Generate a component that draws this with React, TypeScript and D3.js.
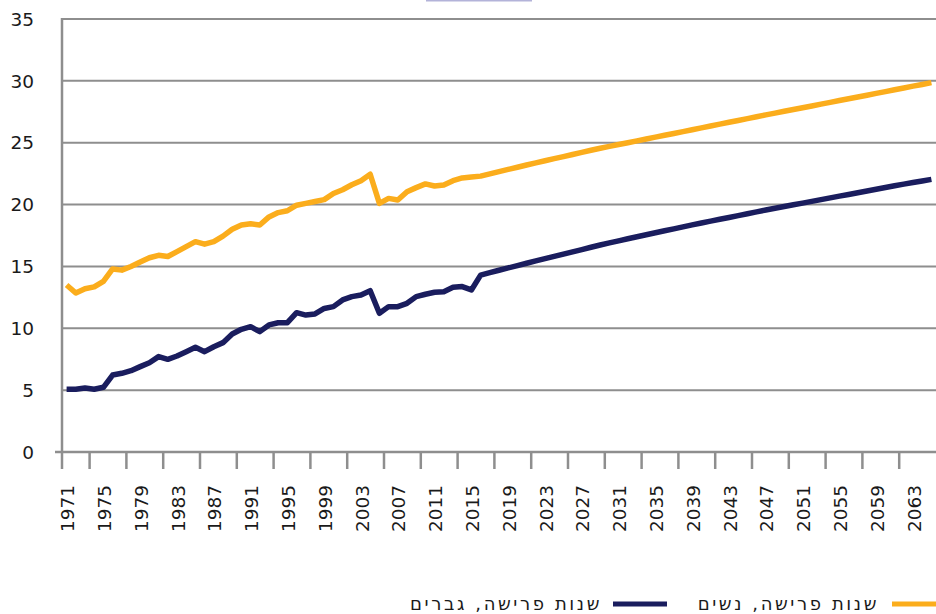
import React from "react";
import * as d3 from "d3";

const years: number[] = d3.range(1971, 2066);

const women: number[] = [
  13.5, 12.85, 13.2, 13.35, 13.8, 14.8, 14.7, 15.0, 15.35, 15.7,
  15.9, 15.8, 16.2, 16.6, 17.0, 16.8, 17.0, 17.45, 18.0, 18.35,
  18.45, 18.35, 19.0, 19.35, 19.5, 19.95, 20.1, 20.25, 20.4, 20.9,
  21.2, 21.6, 21.93, 22.45, 20.1, 20.5, 20.37, 21.04, 21.37, 21.67,
  21.5, 21.58, 21.93, 22.15, 22.22, 22.3,
  22.48, 22.66, 22.84, 23.02, 23.2, 23.37, 23.54, 23.71, 23.88, 24.05,
  24.22, 24.39, 24.55,
  24.7, 24.85, 25.0, 25.15, 25.3, 25.45, 25.6, 25.75, 25.9, 26.05,
  26.2, 26.35, 26.5, 26.65, 26.8, 26.95, 27.1, 27.25, 27.39, 27.54,
  27.68, 27.83, 27.97, 28.12, 28.26, 28.41, 28.55, 28.7, 28.84, 28.99,
  29.13, 29.28, 29.42, 29.57, 29.71, 29.86,
];

const men: number[] = [
  5.07, 5.07, 5.17, 5.07, 5.23, 6.22, 6.36, 6.57, 6.9, 7.22,
  7.71, 7.49, 7.76, 8.11, 8.46, 8.11, 8.51, 8.84, 9.54, 9.92,
  10.13, 9.73, 10.27, 10.45, 10.45, 11.26, 11.07, 11.16, 11.6, 11.75,
  12.29, 12.56, 12.69, 13.04, 11.21, 11.75, 11.75, 12.02, 12.56, 12.75,
  12.91, 12.96, 13.31, 13.37, 13.1, 14.3,
  14.5, 14.69, 14.88, 15.07, 15.26, 15.45, 15.63, 15.81, 16.0, 16.18,
  16.36, 16.55, 16.73,
  16.9, 17.07, 17.24, 17.4, 17.56, 17.72, 17.88, 18.04, 18.2, 18.36,
  18.51, 18.66, 18.81, 18.96, 19.11, 19.26, 19.41, 19.56,
  19.7, 19.84, 19.98, 20.12, 20.26, 20.4, 20.54, 20.68, 20.82, 20.96,
  21.1, 21.24, 21.38, 21.52, 21.65, 21.78, 21.91, 22.04,
];

const yTicks: number[] = [0, 5, 10, 15, 20, 25, 30, 35];
const xLabelYears: number[] = years.filter((_, i) => i % 4 === 0);
const tickBoundaryIdx: number[] = years.map((_, i) => i).filter((i) => i % 4 === 3);

const legendWomen = "שנות פרישה, נשים";
const legendMen = "שנות פרישה, גברים";

const W = 936;
const H = 614;
const L = 62;
const R = 936;
const T = 19;
const B = 452;

const ORANGE = "#FBAD1C";
const NAVY = "#1A1D5E";
const GRID = "#8E8E8E";
const FONT = "'DejaVu Sans', Verdana, sans-serif";

export default function App() {
  const x = d3.scaleBand<number>().domain(years).range([L, R]).padding(0);
  const y = d3.scaleLinear().domain([0, 35]).range([B, T]);
  const cx = (yr: number) => (x(yr) as number) + x.bandwidth() / 2;

  const line = d3
    .line<number>()
    .x((_, i) => cx(years[i]))
    .y((d) => y(d));

  return (
    <svg
      width={W}
      height={H}
      style={{ position: "fixed", left: 0, top: 0, background: "#fff" }}
    >
      <rect x={0} y={0} width={W} height={H} fill="#fff" />
      <rect x={426} y={0} width={106} height={1.5} fill="#b3b3d9" />
      {yTicks.map((t) => (
        <g key={t}>
          {t > 0 && (
            <line x1={L} x2={R} y1={y(t)} y2={y(t)} stroke={GRID} strokeWidth={2} />
          )}
          <text
            x={34}
            y={y(t)}
            dy="0.36em"
            textAnchor="end"
            fontFamily={FONT}
            fontSize={18.5}
            fill="#1a1a1a"
          >
            {t}
          </text>
        </g>
      ))}
      <line x1={55} x2={R} y1={B} y2={B} stroke={GRID} strokeWidth={2.5} />
      <line x1={L} x2={L} y1={T - 1} y2={469} stroke={GRID} strokeWidth={2.5} />
      {tickBoundaryIdx.map((i) => (
        <line
          key={i}
          x1={x(years[i]) as number}
          x2={x(years[i]) as number}
          y1={B}
          y2={469}
          stroke={GRID}
          strokeWidth={2.5}
        />
      ))}
      {xLabelYears.map((yr) => (
        <text
          key={yr}
          transform={`translate(${cx(yr) + 1},485) rotate(-90)`}
          dy="0.36em"
          textAnchor="end"
          fontFamily={FONT}
          fontSize={18.5}
          fill="#1a1a1a"
        >
          {yr}
        </text>
      ))}
      <path
        d={line(women) || ""}
        fill="none"
        stroke={ORANGE}
        strokeWidth={5.5}
        strokeLinejoin="round"
      />
      <path
        d={line(men) || ""}
        fill="none"
        stroke={NAVY}
        strokeWidth={5.5}
        strokeLinejoin="round"
      />
      <line x1={892} x2={940} y1={604} y2={604} stroke={ORANGE} strokeWidth={5} />
      <text
        x={879}
        y={610}
        textAnchor="end"
        fontFamily={FONT}
        fontSize={18}
        letterSpacing={2.6}
        fill="#1a1a1a"
      >
        {legendWomen}
      </text>
      <line x1={613} x2={667} y1={604} y2={604} stroke={NAVY} strokeWidth={5} />
      <text
        x={602}
        y={610}
        textAnchor="end"
        fontFamily={FONT}
        fontSize={18}
        letterSpacing={2.6}
        fill="#1a1a1a"
      >
        {legendMen}
      </text>
    </svg>
  );
}
